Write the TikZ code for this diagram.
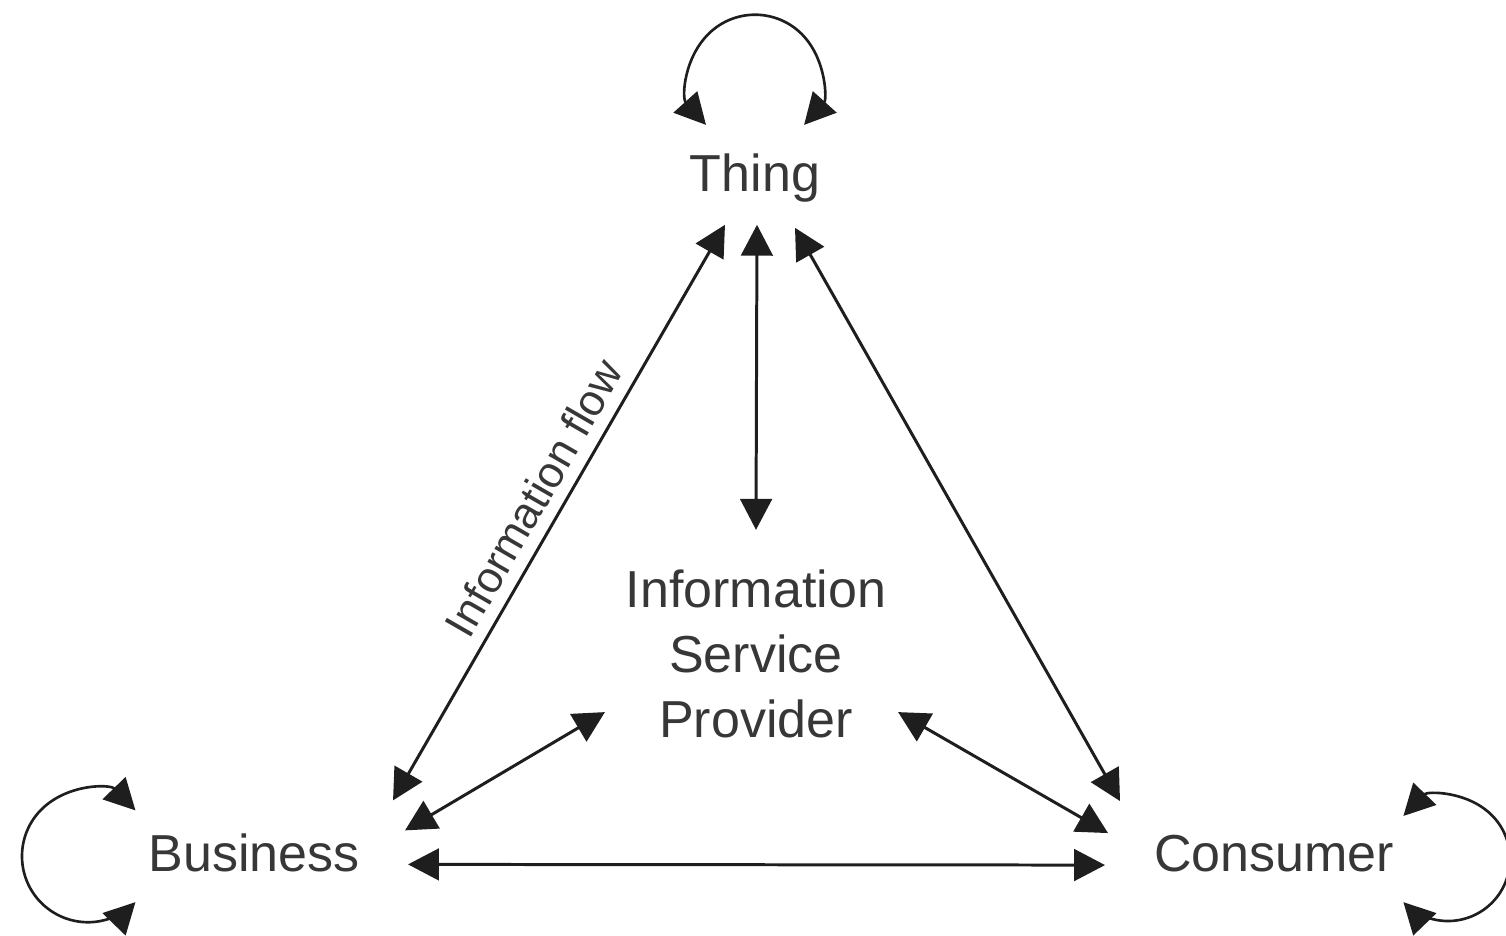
\documentclass[tikz,border=0pt]{standalone}
\usepackage{fontspec}
\setmainfont{Liberation Sans}
\usepackage{tikz}
\usetikzlibrary{arrows.meta}
\definecolor{linecolor}{RGB}{30, 30, 30}
\definecolor{textcolor}{RGB}{55, 55, 55}

\begin{document}
\begin{tikzpicture}[
    ent/.style={inner sep=0pt, outer sep=0pt, text=textcolor, font=\fontsize{14.8}{18.5}\selectfont},
    flow/.style={{Triangle[length=8.8pt,width=9pt]}-{Triangle[length=8.8pt,width=9pt]}, line width=0.85pt, draw=linecolor},
    selfloop/.style={{Triangle[length=8.8pt,width=9pt]}-{Triangle[length=8.8pt,width=9pt]}, line width=0.75pt, draw=linecolor}
  ]
        % Thing, Business and Consumer round the service provider
        \useasboundingbox (0,0) rectangle (15.06,9.36);
        \node[ent, anchor=base] (thing) at (7.55,7.44) {Thing};
        \node[ent, anchor=base] (business) at (2.54,0.64) {Business};
        \node[ent, anchor=base] (consumer) at (12.74,0.64) {Consumer};
        \node[ent, align=center] (isp) at (7.56,2.82) {Information\\Service\\Provider};

        \draw[flow] ([shift={(0.335,0.53)}]business.east) -- ([shift={(-0.30,-0.22)}]thing.south)
            node[midway, sloped, above, text=textcolor, font=\fontsize{12.5}{14}\selectfont] {Information flow};
        \draw[flow] ([shift={(0.02,-0.22)}]thing.south) -- ([yshift=0.40cm]isp.north);
        \draw[flow] ([shift={(0.40,-0.25)}]thing.south) -- ([shift={(-0.34,0.53)}]consumer.west);
        \draw[flow] ([shift={(-0.21,0.26)}]isp.south west) -- ([shift={(0.455,0.23)}]business.east);
        \draw[flow] ([shift={(0.12,0.26)}]isp.south east) -- ([shift={(-0.46,0.21)}]consumer.west);
        \draw[flow] ([shift={(0.485,-0.11)}]business.east) -- ([shift={(-0.49,-0.11)}]consumer.west);

        \draw[selfloop] ([shift={(-0.49,0.294)}]thing.north) arc[start angle=222, end angle=-42, radius=0.66];
        \draw[selfloop] ([shift={(-0.13,0.43)}]business.west) arc[start angle=44, end angle=316, radius=0.66];
        \draw[selfloop] ([shift={(0.094,0.381)}]consumer.east) arc[start angle=136, end angle=-136, radius=0.62];
    \end{tikzpicture}
\end{document}
